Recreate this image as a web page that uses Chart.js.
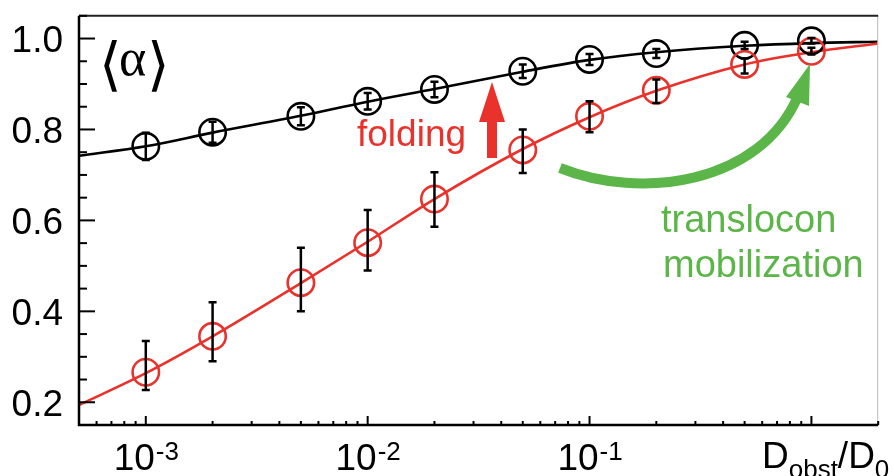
<!DOCTYPE html>
<html>
<head>
<meta charset="utf-8">
<script src="https://cdn.jsdelivr.net/npm/chart.js@4/dist/chart.umd.min.js"></script>
<style>
  html, body { margin: 0; padding: 0; background: #fff; }
  #wrap { width: 894px; height: 476px; position: relative; }
</style>
</head>
<body>
<div id="wrap"><canvas id="chart"></canvas></div>
<script>
// measured points (D_obst/D_0)
const xVals   = [1e-3, 2e-3, 5e-3, 1e-2, 2e-2, 5e-2, 0.1, 0.2, 0.5, 1];
const blackY  = [0.763, 0.794, 0.829, 0.862, 0.888, 0.928, 0.954, 0.967, 0.985, 0.995];
const blackErr = [0.03, 0.023, 0.02, 0.018, 0.017, 0.015, 0.012, 0.01, 0.008, 0.006];
const redY    = [0.266, 0.345, 0.463, 0.551, 0.647, 0.755, 0.829, 0.886, 0.943, 0.972];
const redLo   = [0.227, 0.290, 0.400, 0.490, 0.586, 0.704, 0.794, 0.858, 0.923, 0.965];
const redHi   = [0.335, 0.420, 0.540, 0.623, 0.706, 0.800, 0.862, 0.910, 0.956, 0.980];

// fitted curves
const fitX     = [5e-4, 1e-3, 2e-3, 5e-3, 1e-2, 2e-2, 5e-2, 0.1, 0.2, 0.5, 1, 2];
const blackFit = [0.742, 0.763, 0.793, 0.830, 0.861, 0.889, 0.927, 0.953, 0.970, 0.984, 0.990, 0.993];
const redFit   = [0.194, 0.264, 0.345, 0.462, 0.553, 0.647, 0.757, 0.827, 0.885, 0.943, 0.970, 0.989];

const yMajor = [0.2, 0.4, 0.6, 0.8, 1.0];
const xMajor = [-3, -2, -1];

const RED   = '#e8322b';
const GREEN = '#5bb548';
const SANS  = '"Liberation Sans", Arial, Helvetica, sans-serif';
const SERIF = '"DejaVu Serif", "Liberation Serif", serif';

const pts = (xs, ys) => xs.map((x, i) => ({ x, y: ys[i] }));

/* ---------- error bars ---------- */
const errorBars = {
  id: 'errorBars',
  afterDatasetsDraw(chart) {
    const { ctx, scales: { x, y } } = chart;
    ctx.save();
    ctx.strokeStyle = '#000';
    ctx.lineWidth = 2.5;
    const bar = (xv, lo, hi) => {
      const px = x.getPixelForValue(xv);
      const p1 = y.getPixelForValue(lo), p2 = y.getPixelForValue(hi);
      ctx.beginPath();
      ctx.moveTo(px, p1); ctx.lineTo(px, p2);
      ctx.moveTo(px - 4, p1); ctx.lineTo(px + 4, p1);
      ctx.moveTo(px - 4, p2); ctx.lineTo(px + 4, p2);
      ctx.stroke();
    };
    xVals.forEach((xv, i) => bar(xv, blackY[i] - blackErr[i], blackY[i] + blackErr[i]));
    xVals.forEach((xv, i) => bar(xv, redLo[i], redHi[i]));
    ctx.restore();
  }
};

/* ---------- frame, inward ticks, labels, annotations ---------- */
const decor = {
  id: 'decor',
  afterDraw(chart) {
    const { ctx, chartArea: a, scales: { x, y } } = chart;
    ctx.save();

    // frame
    ctx.strokeStyle = '#bbb'; ctx.lineWidth = 1;
    ctx.beginPath(); ctx.moveTo(a.right - 0.5, a.top); ctx.lineTo(a.right - 0.5, a.bottom); ctx.stroke();
    ctx.strokeStyle = '#222'; ctx.lineWidth = 2;
    ctx.beginPath(); ctx.moveTo(a.left, a.top); ctx.lineTo(a.right, a.top); ctx.stroke();
    ctx.strokeStyle = '#000'; ctx.lineWidth = 2.5;
    ctx.beginPath();
    ctx.moveTo(a.left, a.top); ctx.lineTo(a.left, a.bottom); ctx.lineTo(a.right, a.bottom);
    ctx.stroke();

    // y ticks
    ctx.lineWidth = 2;
    for (let k = 3; k <= 21; k++) {
      const v = k * 0.05;
      const py = y.getPixelForValue(v);
      const major = k % 4 === 0;
      ctx.beginPath(); ctx.moveTo(a.left, py); ctx.lineTo(a.left + (major ? 16 : 8), py); ctx.stroke();
    }
    // x ticks
    for (let e = -4; e <= 0; e++) {
      for (let m = 1; m <= 9; m++) {
        const v = m * Math.pow(10, e);
        if (v < x.min || v > x.max) continue;
        const px = x.getPixelForValue(v);
        ctx.beginPath(); ctx.moveTo(px, a.bottom); ctx.lineTo(px, a.bottom - (m === 1 ? 9 : 4)); ctx.stroke();
      }
    }

    // y labels
    ctx.fillStyle = '#000';
    ctx.font = '37px ' + SANS;
    ctx.textAlign = 'right'; ctx.textBaseline = 'alphabetic';
    yMajor.forEach(v => ctx.fillText(v.toFixed(1), 63, y.getPixelForValue(v) + 13.5));

    // x labels 10^n
    xMajor.forEach(e => {
      const px = x.getPixelForValue(Math.pow(10, e));
      ctx.font = '37px ' + SANS;
      const w1 = ctx.measureText('10').width;
      ctx.font = '26px ' + SANS;
      const w2 = ctx.measureText(String(e)).width;
      const x0 = px - (w1 + w2) / 2;
      ctx.textAlign = 'left';
      ctx.font = '37px ' + SANS;
      ctx.fillText('10', x0, 470);
      ctx.font = '26px ' + SANS;
      ctx.fillText(String(e), x0 + w1 + 1, 460);
    });

    // axis title D_obst/D_0
    let cx = 762;
    const part = (t, size, base) => {
      ctx.font = size + 'px ' + SANS;
      ctx.fillText(t, cx, base);
      cx += ctx.measureText(t).width;
    };
    ctx.textAlign = 'left';
    part('D', 37, 468); part('obst', 26, 478); part('/D', 37, 468); part('0', 26, 478);

    // <alpha>: tall thin brackets, serif alpha
    ctx.font = '58px "Noto Sans CJK JP", ' + SERIF;
    ctx.fillText('\u27E8', 99, 84);
    ctx.fillText('\u27E9', 147, 84);
    ctx.font = '52px "Liberation Serif", ' + SERIF;
    ctx.fillText('\u03B1', 119, 75);

    // folding + red arrow
    ctx.fillStyle = RED;
    ctx.font = '37px ' + SANS;
    ctx.fillText('folding', 357, 146);
    ctx.beginPath();
    ctx.moveTo(487, 158); ctx.lineTo(497, 158); ctx.lineTo(497, 122); ctx.lineTo(505, 122);
    ctx.lineTo(492, 82); ctx.lineTo(479, 122); ctx.lineTo(487, 122);
    ctx.closePath(); ctx.fill();

    // translocon mobilization + green arrow
    ctx.fillStyle = GREEN;
    ctx.font = '38px ' + SANS;
    ctx.fillText('translocon', 661, 232);
    ctx.fillText('mobilization', 663, 277);
    ctx.strokeStyle = GREEN; ctx.lineWidth = 10; ctx.lineCap = 'butt';
    ctx.beginPath();
    ctx.moveTo(560, 168);
    ctx.bezierCurveTo(640, 200, 760, 185, 798, 96);
    ctx.stroke();
    ctx.beginPath();
    ctx.moveTo(810, 64); ctx.lineTo(809, 106); ctx.lineTo(786, 97);
    ctx.closePath(); ctx.fill();

    ctx.restore();
  }
};

new Chart(document.getElementById('chart'), {
  type: 'scatter',
  data: {
    datasets: [
      { data: pts(xVals, redY), showLine: false, pointRadius: 13.2, pointHoverRadius: 13.2,
        pointBorderWidth: 2.6, borderColor: RED, backgroundColor: 'rgba(0,0,0,0)', order: 1 },
      { data: pts(xVals, blackY), showLine: false, pointRadius: 13.2, pointHoverRadius: 13.2,
        pointBorderWidth: 2.6, borderColor: '#000', backgroundColor: 'rgba(0,0,0,0)', order: 2 },
      { data: pts(fitX, redFit), showLine: true, pointRadius: 0, borderWidth: 2.6,
        borderColor: RED, cubicInterpolationMode: 'monotone', order: 3 },
      { data: pts(fitX, blackFit), showLine: true, pointRadius: 0, borderWidth: 2.6,
        borderColor: '#000', cubicInterpolationMode: 'monotone', order: 4 },
    ],
  },
  options: {
    responsive: true,
    maintainAspectRatio: false,
    animation: false,
    devicePixelRatio: 1,
    layout: { padding: { left: 79, right: 1, top: 15, bottom: 51 } },
    plugins: { legend: { display: false }, tooltip: { enabled: false } },
    scales: {
      x: { type: 'logarithmic', min: 5e-4, max: 2, display: false },
      y: { min: 0.15, max: 1.05, display: false },
    },
  },
  plugins: [errorBars, decor],
});
</script>
</body>
</html>
